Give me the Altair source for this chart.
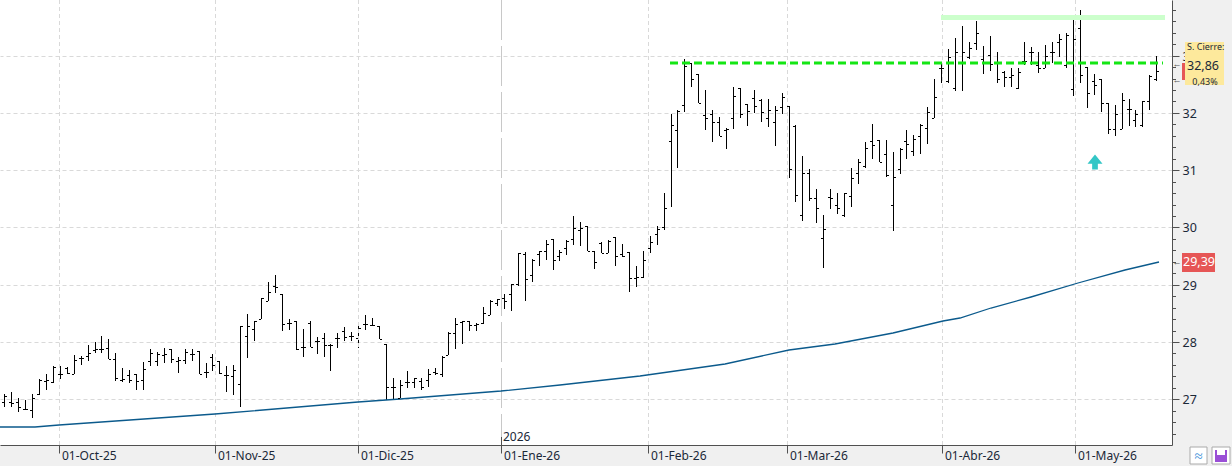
import altair as alt
import pandas as pd
import numpy as np

# ---------------- data ----------------
bar_high = [27.10, 27.12, 27.03, 26.99, 27.10, 27.35, 27.45, 27.59, 27.59, 27.56,
            27.77, 27.75, 27.95, 28.00, 28.11, 28.05, 27.80, 27.54, 27.51, 27.45,
            27.65, 27.87, 27.83, 27.89, 27.88, 27.74, 27.87, 27.87, 27.84, 27.63,
            27.79, 27.67, 27.59, 27.60, 28.28, 28.49, 28.37, 28.76, 29.04, 29.17,
            28.83, 28.41, 28.37, 28.23, 28.36, 28.09, 28.16, 27.97, 28.15, 28.27,
            28.18, 28.30, 28.47, 28.42, 28.28, 27.97, 27.38, 27.34, 27.49, 27.37,
            27.37, 27.53, 27.54, 27.76, 28.18, 28.42, 28.37, 28.37, 28.33, 28.61,
            28.73, 28.75, 28.84, 29.01, 29.55, 29.58, 29.45, 29.59, 29.78, 29.80,
            29.61, 29.78, 30.20, 30.10, 30.03, 29.59, 29.75, 29.78, 29.84, 29.71,
            29.58, 29.33, 29.59, 29.85, 30.03, 30.60, 31.98, 32.05, 32.94, 32.88,
            32.68, 32.40, 32.05, 31.93, 31.73, 32.46, 32.43, 32.16, 32.40, 32.24,
            32.24, 32.12, 32.34, 32.12, 31.79, 31.25, 31.02, 30.68, 30.22, 30.67,
            30.60, 30.60, 31.04, 31.20, 31.50, 31.81, 31.52, 31.52, 31.31, 31.38,
            31.70, 31.61, 31.81, 32.10, 32.60, 32.87, 33.11, 33.30, 33.52, 33.24,
            33.61, 33.17, 33.35, 33.06, 32.73, 32.79, 32.79, 33.23, 33.16, 33.07,
            33.19, 33.24, 33.37, 33.40, 33.71, 33.80, 32.81, 32.68, 32.60, 32.17,
            32.14, 32.34, 32.24, 32.05, 32.21, 32.66, 32.99]
bar_low = [26.87, 26.87, 26.78, 26.81, 26.68, 27.07, 27.16, 27.28, 27.35, 27.45,
           27.45, 27.60, 27.66, 27.80, 27.81, 27.70, 27.32, 27.31, 27.28, 27.16,
           27.16, 27.59, 27.59, 27.64, 27.63, 27.46, 27.61, 27.67, 27.45, 27.37,
           27.50, 27.45, 27.13, 27.07, 26.87, 27.72, 28.02, 28.41, 28.71, 28.85,
           28.20, 28.21, 27.86, 27.74, 27.92, 27.79, 27.73, 27.50, 27.89, 28.01,
           28.01, 27.90, 28.21, 28.28, 28.05, 26.99, 27.00, 27.02, 27.20, 27.19,
           27.16, 27.22, 27.42, 27.39, 27.77, 27.87, 27.96, 28.20, 28.20, 28.31,
           28.47, 28.63, 28.58, 28.55, 28.98, 28.72, 29.05, 29.33, 29.43, 29.25,
           29.42, 29.52, 29.69, 29.68, 29.59, 29.28, 29.55, 29.55, 29.32, 29.49,
           28.88, 28.96, 29.11, 29.56, 29.69, 29.96, 30.36, 31.03, 32.01, 32.46,
           32.17, 31.70, 31.50, 31.60, 31.37, 31.72, 31.91, 31.77, 32.00, 31.85,
           31.76, 31.42, 31.99, 30.87, 30.45, 30.12, 30.47, 30.08, 29.30, 30.33,
           30.24, 30.19, 30.35, 30.76, 31.03, 31.20, 31.15, 30.89, 29.94, 30.93,
           31.20, 31.24, 31.28, 31.46, 31.91, 32.53, 32.53, 32.39, 32.39, 32.94,
           33.10, 32.68, 32.73, 32.52, 32.46, 32.46, 32.41, 32.84, 32.84, 32.69,
           32.78, 32.87, 32.98, 32.78, 32.30, 32.53, 32.09, 32.31, 32.02, 31.63,
           31.60, 31.72, 31.78, 31.76, 31.76, 32.05, 32.56]
bar_open = [26.96, 26.96, 26.95, 26.83, 26.81, 27.10, 27.32, 27.31, 27.45, 27.55,
            27.45, 27.72, 27.75, 27.86, 27.88, 27.89, 27.71, 27.34, 27.42, 27.45,
            27.34, 27.66, 27.67, 27.77, 27.88, 27.67, 27.69, 27.79, 27.84, 27.48,
            27.74, 27.66, 27.42, 27.40, 27.27, 28.11, 28.22, 28.41, 28.72, 28.97,
            28.83, 28.34, 28.37, 27.92, 28.34, 28.01, 28.07, 27.94, 28.07, 28.19,
            28.10, 28.07, 28.31, 28.29, 28.28, 27.97, 27.22, 27.02, 27.30, 27.31,
            27.32, 27.34, 27.48, 27.45, 27.77, 28.15, 28.35, 28.37, 28.30, 28.34,
            28.47, 28.69, 28.77, 28.83, 29.01, 29.53, 29.17, 29.53, 29.59, 29.80,
            29.50, 29.64, 29.80, 29.96, 30.02, 29.59, 29.73, 29.56, 29.83, 29.54,
            29.58, 29.11, 29.14, 29.65, 29.88, 30.00, 31.51, 31.71, 32.14, 32.88,
            32.68, 31.96, 31.99, 31.85, 31.70, 31.91, 32.43, 32.16, 32.26, 32.23,
            31.91, 31.85, 32.10, 32.12, 31.77, 30.22, 30.96, 30.51, 29.81, 30.53,
            30.39, 30.22, 30.55, 30.95, 31.07, 31.51, 31.52, 31.28, 30.40, 31.02,
            31.51, 31.33, 31.59, 31.73, 31.91, 32.78, 32.56, 32.43, 32.89, 32.97,
            33.22, 32.95, 33.01, 32.87, 32.72, 32.62, 32.43, 32.91, 33.07, 32.84,
            32.78, 33.07, 33.24, 32.84, 32.41, 33.48, 32.81, 32.56, 32.59, 32.17,
            31.72, 31.72, 32.07, 31.88, 31.79, 32.21, 32.60]
bar_close = [27.05, 26.93, 26.87, 26.83, 27.03, 27.34, 27.34, 27.57, 27.45, 27.46,
             27.69, 27.72, 27.81, 27.87, 27.88, 27.70, 27.38, 27.35, 27.34, 27.32,
             27.53, 27.80, 27.79, 27.79, 27.70, 27.69, 27.82, 27.79, 27.45, 27.48,
             27.60, 27.46, 27.42, 27.51, 28.28, 28.28, 28.37, 28.76, 28.88, 28.96,
             28.31, 28.34, 27.87, 27.92, 27.92, 28.02, 27.95, 27.94, 28.07, 28.09,
             28.10, 28.24, 28.31, 28.29, 28.06, 27.21, 27.22, 27.25, 27.30, 27.37,
             27.22, 27.45, 27.46, 27.74, 28.16, 28.31, 28.37, 28.30, 28.31, 28.50,
             28.72, 28.75, 28.72, 29.01, 29.55, 29.10, 29.44, 29.59, 29.72, 29.43,
             29.58, 29.77, 29.99, 29.99, 29.59, 29.39, 29.56, 29.77, 29.50, 29.50,
             29.11, 29.13, 29.43, 29.75, 29.97, 30.34, 31.79, 32.03, 32.82, 32.60,
             32.17, 31.91, 31.85, 31.60, 31.72, 32.30, 31.99, 32.03, 32.12, 32.02,
             32.05, 32.05, 32.27, 31.02, 30.57, 30.96, 30.51, 30.34, 29.97, 30.51,
             30.34, 30.60, 30.87, 31.14, 31.38, 31.44, 31.15, 30.92, 30.88, 31.37,
             31.46, 31.55, 31.79, 32.01, 32.27, 32.78, 32.97, 33.06, 33.06, 33.13,
             33.39, 32.88, 32.85, 32.60, 32.62, 32.67, 32.72, 32.91, 33.07, 32.78,
             32.99, 33.07, 33.29, 33.36, 33.29, 32.66, 32.34, 32.49, 32.18, 31.72,
             31.99, 32.23, 32.07, 31.98, 32.21, 32.65, 32.74]

# 200-session moving average, read at a series of bar positions
ma_bar = [-0.62, 4.4, 7.9, 30.4, 51.0, 57.0, 71.6, 80.1, 91.6, 103.9,
          113.1, 119.7, 128.1, 135.3, 137.7, 142.2, 147.9, 154.7, 161.5, 166.4]
ma_value = [26.51, 26.51, 26.55, 26.74, 26.96, 27.00, 27.15, 27.25, 27.41, 27.61,
            27.86, 27.97, 28.15, 28.36, 28.42, 28.60, 28.79, 29.03, 29.25, 29.39]

month_labels = ["01-Oct-25", "01-Nov-25", "01-Dic-25", "01-Ene-26",
                "01-Feb-26", "01-Mar-26", "01-Abr-26", "01-May-26"]
month_bar = [7.92, 30.36, 51.0, 71.57, 92.8, 112.82, 135.07, 154.32]
year_label = "2026"
year_bar = 71.57
price_ticks = [27, 28, 29, 30, 31, 32, 33, 34]

dashed_level = 32.88
dashed_from, dashed_to = 95.9, 167.0
band_low, band_high = 33.63, 33.71
band_from, band_to = 134.97, 167.25
arrow_bar, arrow_value = 157.1, 31.15

close_title = "S. Cierre:"
close_text = "32,86"
close_value = 32.86
change_text = "0,43%"
range_low, range_high = 32.57, 32.88
ma_text = "29,39"
ma_last = 29.39

# ---------------- chart ----------------
W, H = 1172, 445
FONT = "Noto Sans"
TXT = "#1b2838"
AX = "#505050"

xs = alt.Scale(domain=[-0.62, 168.26], nice=False, zero=False, round=True)
ys = alt.Scale(domain=[26.202, 33.972], nice=False, zero=False, round=True)

xaxis = alt.Axis(values=month_bar, labels=False, ticks=True, tickSize=8,
                 tickColor=AX, domainColor=AX, grid=False, title=None)
yaxis = alt.Axis(orient="right", values=price_ticks, tickSize=7, tickColor=AX,
                 domainColor=AX, labelFont=FONT, labelFontSize=12.5,
                 labelColor=TXT, labelPadding=3, labelFlush=False,
                 labelOverlap=False, grid=True, gridDash=[4, 3],
                 gridColor="#d9d9d9", title=None)


def X(f):
    return alt.X(f, scale=xs, axis=xaxis)


def Y(f):
    return alt.Y(f, scale=ys, axis=yaxis)


n = len(bar_close)
df = pd.DataFrame({"i": np.arange(n), "o": bar_open, "h": bar_high,
                   "l": bar_low, "c": bar_close})
base = alt.Chart(df)

month_df = pd.DataFrame({"pos": month_bar, "label": month_labels})
grid_df = month_df[month_df["pos"] != year_bar]

vgrid = alt.Chart(grid_df).mark_rule(color="#d9d9d9", strokeDash=[4, 3],
                                     strokeWidth=1, xOffset=0.5).encode(
    x=X("pos:Q"), y=alt.value(0), y2=alt.value(H))
ygrid = alt.Chart(pd.DataFrame({"pos": [year_bar]})).mark_rule(
    color="#c8c8c8", strokeDash=[40, 6], strokeWidth=1, xOffset=0.5).encode(
    x=X("pos:Q"), y=alt.value(0), y2=alt.value(H))

band = alt.Chart(pd.DataFrame({"x1": [band_from], "x2": [band_to],
                               "y1": [band_low], "y2": [band_high]})).mark_rect(
    color="#ccffcc").encode(x=X("x1:Q"), x2="x2:Q", y=Y("y1:Q"), y2="y2:Q")

ma = alt.Chart(pd.DataFrame({"b": ma_bar, "v": ma_value})).mark_line(
    color="#0b5a8c", strokeWidth=1.3).encode(x=X("b:Q"), y=Y("v:Q"))

hl = base.mark_rule(color="black", strokeWidth=1, xOffset=0.5).encode(
    x=X("i:Q"), y=Y("h:Q"), y2="l:Q")
opn = base.mark_tick(color="black", orient="horizontal", size=2, thickness=1,
                     xOffset=-1, yOffset=0.5, opacity=1).encode(x=X("i:Q"), y=Y("o:Q"))
cls = base.mark_tick(color="black", orient="horizontal", size=2, thickness=1,
                     xOffset=2, yOffset=0.5, opacity=1).encode(x=X("i:Q"), y=Y("c:Q"))

dashed = alt.Chart(pd.DataFrame({"x1": [dashed_from], "x2": [dashed_to],
                                 "v": [dashed_level]})).mark_rule(
    color="#14e614", strokeWidth=3, strokeDash=[8, 4]).encode(
    x=X("x1:Q"), x2="x2:Q", y=Y("v:Q"))

arrow_shape = "M0,-1 L1,0.24 L0.38,0.24 L0.38,1 L-0.38,1 L-0.38,0.24 L-1,0.24 Z"
arrow = alt.Chart(pd.DataFrame({"b": [arrow_bar], "v": [arrow_value]})).mark_point(
    shape=arrow_shape, size=225, filled=True, color="#33c6c6", opacity=1,
    strokeWidth=0).encode(x=X("b:Q"), y=Y("v:Q"))

# x labels
mlabels = alt.Chart(month_df).mark_text(align="left", baseline="top", dx=3,
                                        font=FONT, fontSize=12, color=TXT).encode(
    x=X("pos:Q"), y=alt.value(H + 6), text="label:N")
ydf = pd.DataFrame({"pos": [year_bar], "label": [year_label]})
ytick = alt.Chart(ydf).mark_rule(color=AX, strokeWidth=1, xOffset=0.5).encode(
    x=X("pos:Q"), y=alt.value(H - 8), y2=alt.value(H))
ytext = alt.Chart(ydf).mark_text(align="left", baseline="alphabetic", dx=2,
                                 font=FONT, fontSize=12, color=TXT).encode(
    x=X("pos:Q"), y=alt.value(H - 4), text="label:N")

# minor ticks on price axis
minor_vals = [round(26.4 + 0.2 * k, 1) for k in range(38)]
minor_vals = [v for v in minor_vals if abs(v - round(v)) > 1e-6]
minor = alt.Chart(pd.DataFrame({"v": minor_vals})).mark_rule(
    color=AX, strokeWidth=1, yOffset=0.5).encode(
    y=Y("v:Q"), x=alt.value(W), x2=alt.value(W + 4))

# moving-average price box
ma_df = pd.DataFrame({"v": [ma_last], "top": [ma_last + 0.166],
                      "bot": [ma_last - 0.166], "t": [ma_text]})
ma_box = alt.Chart(ma_df).mark_rect(color="#e65656").encode(
    x=alt.value(W + 10), x2=alt.value(W + 43), y=Y("top:Q"), y2="bot:Q")
ma_lab = alt.Chart(ma_df).mark_text(align="center", baseline="middle",
                                    font=FONT, fontSize=12.5, color="white").encode(
    x=alt.value(W + 27), y=Y("v:Q"), text="t:N")
ma_arr = alt.Chart(ma_df).mark_text(align="center", baseline="middle",
                                    font=FONT, fontSize=9, color="#555555").encode(
    x=alt.value(W + 5), y=Y("v:Q"), text=alt.value("←"))

# last close box
cl_df = pd.DataFrame({"v": [close_value], "top": [close_value + 0.37],
                      "bot": [close_value - 0.37], "rl": [range_low],
                      "rh": [range_high], "t1": [close_title], "t2": [close_text],
                      "t3": [change_text]})
cl_box = alt.Chart(cl_df).mark_rect(color="#fde99c").encode(
    x=alt.value(W + 13), x2=alt.value(W + 52), y=Y("top:Q"), y2="bot:Q")
cl_red = alt.Chart(cl_df).mark_rect(color="#e65656").encode(
    x=alt.value(W + 10), x2=alt.value(W + 13), y=Y("rh:Q"), y2="rl:Q")
cl_t1 = alt.Chart(cl_df).mark_text(align="left", baseline="middle", dy=-17.5,
                                   font=FONT, fontSize=9, color=TXT).encode(
    x=alt.value(W + 15), y=Y("v:Q"), text="t1:N")
cl_t2 = alt.Chart(cl_df).mark_text(align="left", baseline="middle", dy=1.5,
                                   font=FONT, fontSize=12.5, color=TXT).encode(
    x=alt.value(W + 15), y=Y("v:Q"), text="t2:N")
cl_t3 = alt.Chart(cl_df).mark_text(align="center", baseline="middle", dy=18,
                                   font=FONT, fontSize=9, color=TXT).encode(
    x=alt.value(W + 33), y=Y("v:Q"), text="t3:N")
cl_arr = alt.Chart(cl_df).mark_text(align="center", baseline="middle",
                                    font=FONT, fontSize=9, color="#555555").encode(
    x=alt.value(W + 5), y=Y("v:Q"), text=alt.value("←"))
cl_arr2 = alt.Chart(cl_df).mark_text(align="center", baseline="middle",
                                     font=FONT, fontSize=9, color="#555555").encode(
    x=alt.value(W + 5), y=Y("rl:Q"), text=alt.value("←"))

# small toolbar buttons at the bottom right
icon1 = alt.Chart(pd.DataFrame({"a": [0]})).mark_rect(
    fill="white", stroke="#aaaaaa", strokeWidth=1).encode(
    x=alt.value(W + 18), x2=alt.value(W + 35), y=alt.value(H + 2), y2=alt.value(H + 19))
icon1t = alt.Chart(pd.DataFrame({"a": [0]})).mark_text(
    font=FONT, fontSize=15, color="#3a8fd8", align="center", baseline="middle").encode(
    x=alt.value(W + 26.5), y=alt.value(H + 10.5), text=alt.value("≈"))
icon2 = alt.Chart(pd.DataFrame({"a": [0]})).mark_rect(
    fill="white", stroke="#aaaaaa", strokeWidth=1).encode(
    x=alt.value(W + 40), x2=alt.value(W + 58), y=alt.value(H + 2), y2=alt.value(H + 19))
icon2a = alt.Chart(pd.DataFrame({"a": [0]})).mark_rect(fill="#9a4fd6").encode(
    x=alt.value(W + 43), x2=alt.value(W + 55), y=alt.value(H + 5), y2=alt.value(H + 17))
icon2b = alt.Chart(pd.DataFrame({"a": [0]})).mark_rect(fill="white").encode(
    x=alt.value(W + 45), x2=alt.value(W + 53), y=alt.value(H + 5), y2=alt.value(H + 10))

chart = alt.layer(
    hl, vgrid, ygrid, band, ma, opn, cls, dashed, arrow,
    mlabels, ytick, ytext, minor,
    ma_box, ma_lab, ma_arr, cl_red, cl_box, cl_t1, cl_t2, cl_t3, cl_arr, cl_arr2,
    icon1, icon1t, icon2, icon2a, icon2b,
).properties(
    width=W, height=H,
    autosize=alt.AutoSizeParams(type="none"),
    padding={"left": 0, "top": 0, "right": 60, "bottom": 21},
    background="#f0f0f0",
).configure_view(fill="white", stroke=None)

chart.save("out.html", embed_options={"renderer": "svg", "actions": False})
